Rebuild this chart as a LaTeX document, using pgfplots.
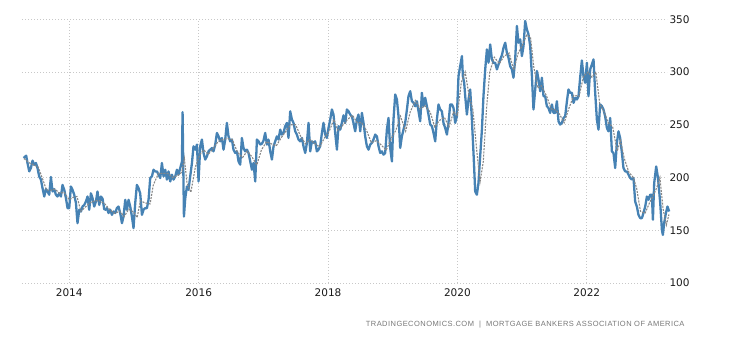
\documentclass[border=0pt]{standalone}
\usepackage{pgfplots}
\pgfplotsset{compat=1.18}
\usepackage{fontspec}
\setmainfont{DejaVu Sans}
\newfontfamily\srcfont{Liberation Sans}
\definecolor{teblue}{RGB}{70,130,180}
\definecolor{tegray}{RGB}{135,135,135}
\definecolor{gridc}{RGB}{200,200,200}
\definecolor{srcc}{RGB}{120,120,120}
\begin{document}
\begin{tikzpicture}[x=1bp,y=1bp]
\path[use as bounding box] (-22bp,-57bp) rectangle (708bp,283bp);
\begin{axis}[
  at={(0,0)}, anchor=south west,
  scale only axis, width=645bp, height=263.7bp,
  xmin=2013.27, xmax=2023.24, ymin=100, ymax=350,
  xtick={2014,2016,2018,2020,2022},
  ytick={100,150,200,250,300,350},
  yticklabel pos=right,
  xticklabel style={/pgf/number format/1000 sep={}, font=\fontsize{10.5bp}{12bp}\selectfont, text=black!90, yshift=-2bp},
  yticklabel style={font=\fontsize{10.5bp}{12bp}\selectfont, text=black!90, xshift=-1bp},
  /pgf/number format/assume math mode=true,
  axis line style={draw=none},
  major tick length=0pt,
  xmajorgrids, ymajorgrids,
  grid style={gridc, line width=0.8bp, dash pattern=on 1bp off 2bp},
  clip=false,
]
\addplot[teblue, line width=2.3bp, line join=round] coordinates {
(2013.294,218.5)(2013.335,220.7)(2013.355,213.8)(2013.382,205.8)(2013.408,209)(2013.433,216)(2013.459,212)(2013.485,213.8)(2013.510,209)(2013.536,201)(2013.563,198)(2013.587,190)(2013.614,182)(2013.640,189)(2013.665,186.8)(2013.691,183.7)(2013.717,200.5)(2013.742,186.8)(2013.768,189)(2013.794,183.7)(2013.819,182)(2013.845,185)(2013.872,182)(2013.896,193)(2013.923,188.4)(2013.949,180.5)(2013.974,171)(2014.000,171)(2014.026,191.5)(2014.051,188.4)(2014.077,183.7)(2014.104,175.8)(2014.128,156.7)(2014.155,169.4)(2014.181,167.8)(2014.206,172.5)(2014.232,174)(2014.258,177.3)(2014.283,182)(2014.309,169.4)(2014.335,185)(2014.360,180.5)(2014.386,172.5)(2014.413,177.3)(2014.437,186.8)(2014.464,174)(2014.490,182)(2014.515,180)(2014.541,170)(2014.567,169.4)
(2014.583,171)(2014.607,166.3)(2014.634,169.4)(2014.660,164.6)(2014.685,167.8)(2014.711,166.3)(2014.737,171)(2014.762,172.5)(2014.788,166.3)(2014.815,156.7)(2014.839,163)(2014.866,178.9)(2014.892,169.4)(2014.917,178.9)(2014.943,172.5)(2014.969,163)(2014.994,152)(2015.020,175.8)(2015.046,193)(2015.071,190)(2015.097,185)(2015.124,164.6)(2015.148,169.4)(2015.175,171)(2015.201,171)(2015.226,178.9)(2015.252,199.5)(2015.278,201)(2015.303,207.4)(2015.329,205.8)(2015.356,205.8)(2015.380,202.7)(2015.407,199.5)(2015.433,213.8)(2015.458,201)(2015.484,207.4)(2015.510,198)(2015.535,205.8)(2015.561,196.3)(2015.587,202.7)(2015.612,198)(2015.638,201)(2015.665,207.4)(2015.689,202.7)(2015.716,209)(2015.742,215)(2015.752,262)(2015.773,163)(2015.793,180)(2015.819,191.5)(2015.844,188.4)(2015.870,201)(2015.897,213.8)(2015.921,229.6)(2015.948,226.4)(2015.974,231.2)(2015.999,196.3)
(2016.025,229.6)(2016.051,236)(2016.076,223.3)(2016.102,217)(2016.128,220)(2016.153,224.8)(2016.179,226.4)(2016.206,228)(2016.230,224.8)(2016.257,231.2)(2016.283,242.3)(2016.308,239)(2016.334,234.3)(2016.360,237.5)(2016.385,226.4)(2016.411,236)(2016.437,251.8)(2016.462,239)(2016.488,234.3)(2016.515,236)(2016.539,226.4)(2016.566,223.3)(2016.592,224.8)(2016.617,215.3)(2016.643,212.2)(2016.669,237.5)(2016.694,228)(2016.720,224.8)(2016.747,226.4)(2016.771,223.3)(2016.798,215.3)(2016.824,207.4)(2016.849,213.8)(2016.875,196.3)(2016.901,236)(2016.926,234.3)(2016.952,231.2)(2016.978,232)(2017.003,235)
(2017.029,242.3)(2017.056,231.2)(2017.080,236)(2017.107,224.8)(2017.133,217)(2017.158,229.6)(2017.184,234.3)(2017.210,239)(2017.235,236)(2017.261,245.4)(2017.287,240.7)(2017.312,242.3)(2017.338,248.6)(2017.365,251.8)(2017.389,237.5)(2017.416,262.8)(2017.442,254.9)(2017.467,251.8)(2017.493,243.8)(2017.519,240.7)(2017.544,236)(2017.570,234.3)(2017.597,237.5)(2017.621,229.6)(2017.648,223.3)(2017.674,232.8)(2017.699,251.8)(2017.725,224.8)(2017.751,234.3)(2017.776,232.8)(2017.802,234.3)(2017.828,224.8)(2017.853,226.4)(2017.879,229.6)(2017.906,242.3)(2017.930,251.8)(2017.957,240.7)(2017.983,237.5)
(2018.008,247)(2018.034,254.9)(2018.060,264.5)(2018.085,259.7)(2018.111,242.3)(2018.138,226.4)(2018.162,248.6)(2018.189,245.4)(2018.215,252)(2018.240,259)(2018.266,251.8)(2018.292,264.5)(2018.317,262.8)(2018.343,259.7)(2018.369,258)(2018.394,251.8)(2018.420,243.8)(2018.447,254.9)(2018.471,259.7)(2018.498,243.8)(2018.524,261.3)(2018.549,251.8)(2018.575,239)(2018.601,229.6)(2018.626,226.4)(2018.652,231.2)(2018.679,232.8)(2018.703,236)(2018.730,240.7)(2018.756,239)(2018.781,229.6)(2018.807,223.3)(2018.833,224.8)(2018.858,221.7)(2018.884,223.3)(2018.910,245.4)(2018.935,256.5)(2018.961,228)(2018.988,215.3)
(2019.012,254.9)(2019.039,278.7)(2019.065,274)(2019.090,258)(2019.116,228)(2019.142,239)(2019.167,245.4)(2019.193,251.8)(2019.220,264.5)(2019.244,277.1)(2019.271,281.8)(2019.297,272.3)(2019.322,270.8)(2019.348,267.6)(2019.374,272.3)(2019.399,262.8)(2019.425,253.3)(2019.451,280.3)(2019.476,267.6)(2019.502,275.6)(2019.529,267.6)(2019.553,259.7)(2019.580,250.2)(2019.606,248.6)(2019.631,242.3)(2019.657,234.3)(2019.683,254.9)(2019.708,269.3)(2019.734,264.5)(2019.760,262.8)(2019.785,251.8)(2019.811,247)(2019.838,240.7)(2019.862,251.8)(2019.889,269.3)(2019.915,269.3)(2019.940,266)(2019.966,251.8)(2019.992,258)
(2020.017,296.1)(2020.043,305.6)(2020.070,315.1)(2020.085,296)(2020.105,289.8)(2020.121,277)(2020.147,259.7)(2020.172,274)(2020.198,283.5)(2020.224,254.9)(2020.249,223.3)(2020.275,186.8)(2020.301,183.7)(2020.326,194.8)(2020.352,220)(2020.379,245.4)(2020.403,277.1)(2020.430,302.5)(2020.456,321.5)(2020.481,308.8)(2020.507,326.2)(2020.533,312)(2020.558,308.8)(2020.584,308.8)(2020.611,302.5)(2020.635,307.2)(2020.662,312)(2020.688,316)(2020.713,323)(2020.739,327.8)(2020.765,318.3)(2020.790,313.6)(2020.816,305.6)(2020.842,302.5)(2020.867,294.6)(2020.893,312)(2020.920,343.7)(2020.944,327.8)(2020.971,331)(2020.997,315.1)
(2021.022,324.6)(2021.048,348.4)(2021.074,340.5)(2021.099,335.7)(2021.125,324.6)(2021.152,296.1)(2021.176,264.5)(2021.203,283.5)(2021.229,301)(2021.254,293)(2021.280,281.8)(2021.306,294.6)(2021.331,277.1)(2021.357,277.1)(2021.383,267.6)(2021.408,266)(2021.434,261.3)(2021.461,269.3)(2021.485,261.3)(2021.512,261.3)(2021.538,272.3)(2021.563,253.3)(2021.589,250.2)(2021.615,251.8)(2021.640,256.5)(2021.666,258)(2021.693,272.3)(2021.717,283.5)(2021.744,280.3)(2021.770,280.3)(2021.795,270.8)(2021.821,275.6)(2021.847,274)(2021.872,277.1)(2021.898,295)(2021.924,311)(2021.949,296.1)(2021.975,289.8)
(2022.002,308.8)(2022.026,277.1)(2022.053,302.5)(2022.079,307.2)(2022.104,312)(2022.130,280.3)(2022.156,254.9)(2022.181,245.4)(2022.207,269.3)(2022.233,267.6)(2022.258,264.5)(2022.284,258)(2022.311,247)(2022.335,243.8)(2022.362,256.5)(2022.388,224.8)(2022.413,223.3)(2022.439,209)(2022.465,232.8)(2022.490,243.8)(2022.516,237.5)(2022.543,223.3)(2022.567,209)(2022.594,205.8)(2022.620,205.8)(2022.645,202.7)(2022.671,199.5)(2022.697,198)(2022.722,199.5)(2022.748,177.3)(2022.774,172.5)(2022.799,164.6)(2022.825,161.5)(2022.852,161.5)(2022.876,166.3)(2022.903,172.5)(2022.929,182)(2022.954,178.9)(2022.980,183.7)
(2023.006,183.7)(2023.022,160)(2023.042,194.8)(2023.073,210.5)(2023.093,202.7)(2023.108,194.8)(2023.135,175.8)(2023.161,150.4)(2023.176,145.6)(2023.196,156.7)(2023.223,166.3)(2023.247,172.5)(2023.274,167.8)
};
\addplot[tegray, line width=1.1bp, dash pattern=on 2bp off 1.2bp] coordinates {
(2013.30,218)(2013.38,214)(2013.45,212)(2013.52,210)(2013.58,200)(2013.65,188)(2013.72,188)(2013.78,189)(2013.85,185)(2013.92,186)(2014.00,179)(2014.05,181)(2014.12,182)(2014.18,168)(2014.25,172)(2014.32,176)(2014.40,178)(2014.47,178)(2014.55,175)(2014.62,170)(2014.70,166)(2014.78,168)(2014.85,163)(2014.92,170)(2015.00,167)(2015.05,162)(2015.10,178)(2015.17,176)(2015.25,175)(2015.30,193)(2015.38,204)(2015.45,204)(2015.52,204)(2015.60,200)(2015.68,202)(2015.74,205)(2015.78,218)(2015.82,195)(2015.88,186)(2015.95,210)
(2016.02,222)(2016.08,226)(2016.15,222)(2016.22,227)(2016.30,234)(2016.37,236)(2016.45,237)(2016.52,236)(2016.60,224)(2016.68,219)(2016.75,225)(2016.82,220)(2016.90,212)(2016.97,226)(2017.05,234)(2017.12,232)(2017.20,230)(2017.28,238)(2017.35,244)(2017.42,250)(2017.50,250)(2017.57,240)(2017.65,232)(2017.72,236)(2017.80,232)(2017.87,229)(2017.95,238)
(2018.02,244)(2018.09,255)(2018.15,245)(2018.22,249)(2018.30,255)(2018.38,259)(2018.45,252)(2018.52,252)(2018.60,244)(2018.67,233)(2018.75,235)(2018.82,231)(2018.90,226)(2018.97,236)(2019.05,245)(2019.12,258)(2019.20,244)(2019.27,262)(2019.35,273)(2019.42,265)(2019.50,268)(2019.58,262)(2019.65,248)(2019.72,254)(2019.80,257)(2019.87,248)(2019.94,262)
(2020.00,259)(2020.06,290)(2020.12,300)(2020.18,278)(2020.24,264)(2020.30,225)(2020.35,196)(2020.40,215)(2020.45,265)(2020.50,300)(2020.57,314)(2020.65,308)(2020.72,315)(2020.80,318)(2020.87,302)(2020.94,318)(2021.00,325)(2021.07,335)(2021.13,333)(2021.18,305)(2021.24,285)(2021.30,287)(2021.38,277)(2021.45,265)(2021.52,264)(2021.58,260)(2021.65,252)(2021.72,265)(2021.80,278)(2021.88,277)(2021.95,296)
(2022.02,300)(2022.08,295)(2022.14,300)(2022.20,270)(2022.27,262)(2022.33,252)(2022.40,248)(2022.47,225)(2022.52,235)(2022.58,218)(2022.65,205)(2022.72,200)(2022.77,190)(2022.83,168)(2022.90,166)(2022.97,176)(2023.02,182)(2023.08,190)(2023.13,200)(2023.18,170)(2023.23,155)(2023.27,165)
};
\end{axis}
\node[anchor=east, text=srcc, font=\srcfont\fontsize{7.5bp}{9bp}\selectfont\addfontfeatures{LetterSpace=6}] at (666bp,-42bp) {TRADINGECONOMICS.COM \ | \ MORTGAGE BANKERS ASSOCIATION OF AMERICA};
\end{tikzpicture}
\end{document}
